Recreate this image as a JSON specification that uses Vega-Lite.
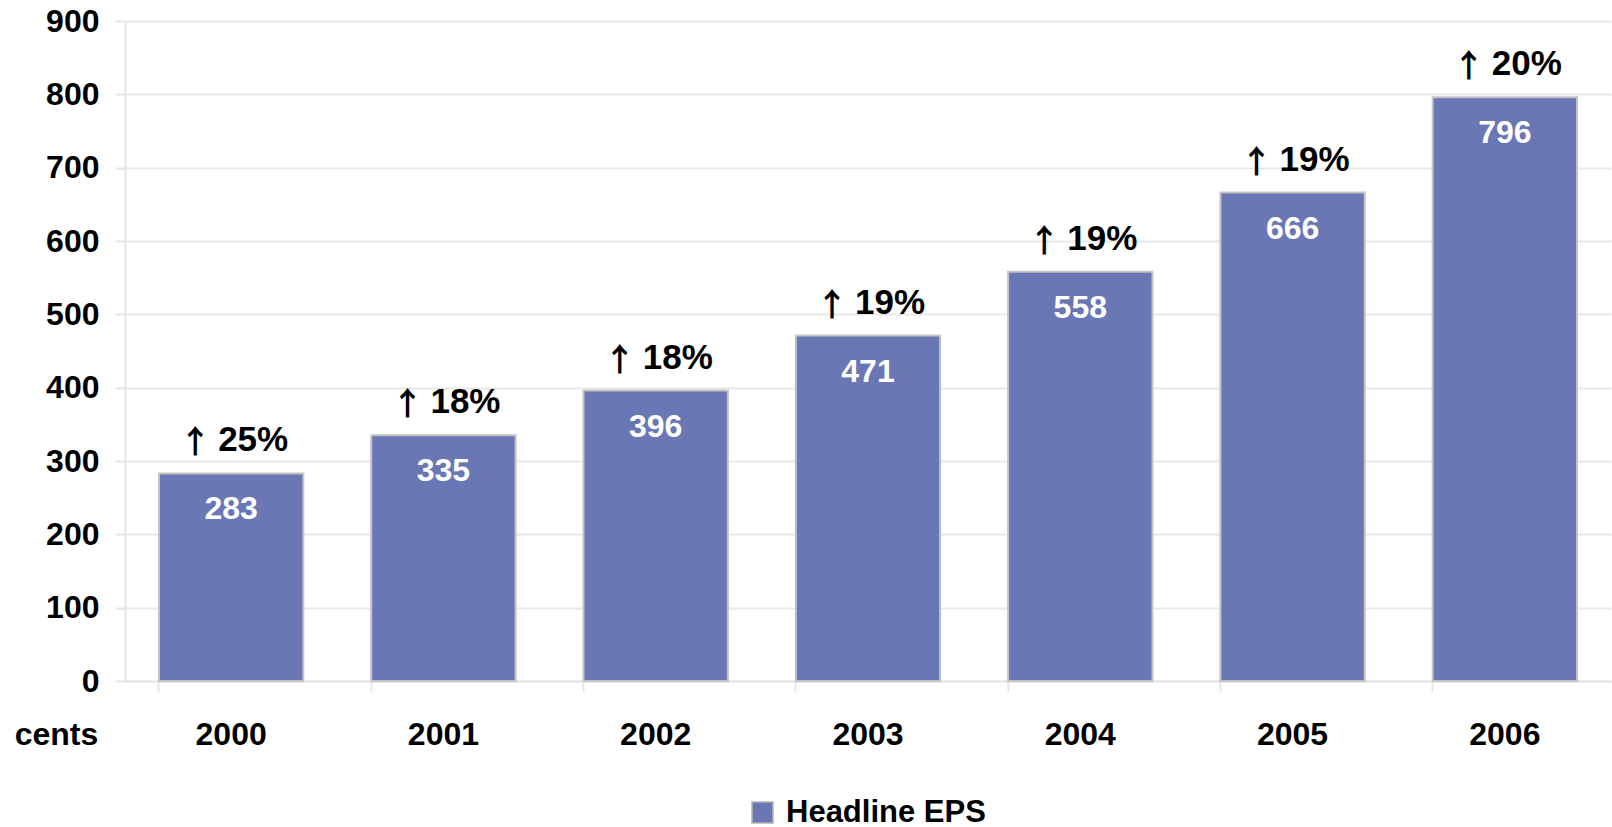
{
  "$schema": "https://vega.github.io/schema/vega-lite/v6.json",
  "width": 1486,
  "height": 660,
  "autosize": {"type": "none"},
  "padding": {"left": 125, "top": 21, "right": 1, "bottom": 146},
  "background": "white",
  "config": {
    "view": {"stroke": null},
    "font": "Liberation Sans",
    "axis": {
      "labelFont": "Liberation Sans",
      "labelFontWeight": "bold",
      "labelColor": "#000000",
      "titleFont": "Liberation Sans",
      "titleFontWeight": "bold",
      "titleColor": "#000000",
      "domainColor": "#e6e6e6",
      "domainWidth": 2,
      "tickColor": "#e6e6e6",
      "tickWidth": 2,
      "tickSize": 10,
      "gridColor": "#e8e8e8",
      "gridWidth": 2
    }
  },
  "data": {
    "values": [
      {"year": "2000", "eps": 283, "arrow": "↑", "growth": "25%", "series": "Headline EPS"},
      {"year": "2001", "eps": 335, "arrow": "↑", "growth": "18%", "series": "Headline EPS"},
      {"year": "2002", "eps": 396, "arrow": "↑", "growth": "18%", "series": "Headline EPS"},
      {"year": "2003", "eps": 471, "arrow": "↑", "growth": "19%", "series": "Headline EPS"},
      {"year": "2004", "eps": 558, "arrow": "↑", "growth": "19%", "series": "Headline EPS"},
      {"year": "2005", "eps": 666, "arrow": "↑", "growth": "19%", "series": "Headline EPS"},
      {"year": "2006", "eps": 796, "arrow": "↑", "growth": "20%", "series": "Headline EPS"}
    ]
  },
  "encoding": {
    "x": {
      "field": "year",
      "type": "nominal",
      "sort": null,
      "scale": {"paddingInner": 0.32, "paddingOuter": 0.16},
      "axis": {
        "title": "cents",
        "titleFontSize": 32,
        "titleAngle": 0,
        "titleAlign": "center",
        "titleBaseline": "alphabetic",
        "titleX": -69,
        "titleY": 63,
        "labelAngle": 0,
        "labelFontSize": 32,
        "labelBaseline": "alphabetic",
        "labelPadding": 53,
        "bandPosition": 0,
        "grid": false
      }
    },
    "y": {
      "field": "eps",
      "type": "quantitative",
      "scale": {"domain": [0, 900], "nice": false},
      "axis": {
        "title": null,
        "values": [0, 100, 200, 300, 400, 500, 600, 700, 800, 900],
        "labelFontSize": 32,
        "labelPadding": 16,
        "grid": true
      }
    }
  },
  "layer": [
    {
      "mark": {"type": "bar", "stroke": "#c4c4c4", "strokeWidth": 2},
      "encoding": {
        "color": {
          "field": "series",
          "type": "nominal",
          "scale": {"range": ["#6977b5"]},
          "legend": {
            "title": null,
            "orient": "none",
            "legendX": 622,
            "legendY": 776,
            "direction": "horizontal",
            "symbolType": "square",
            "symbolSize": 441,
            "symbolStrokeColor": "#b4b4b4",
            "symbolStrokeWidth": 1.5,
            "labelFont": "Liberation Sans",
            "labelFontSize": 31,
            "labelFontWeight": "bold",
            "labelColor": "#000000",
            "labelOffset": 8,
            "labelLimit": 400
          }
        }
      }
    },
    {
      "mark": {"type": "text", "color": "#ffffff", "fontSize": 32, "fontWeight": "bold", "baseline": "alphabetic", "dy": 46, "font": "Liberation Sans"},
      "encoding": {"text": {"field": "eps", "type": "quantitative"}}
    },
    {
      "mark": {"type": "text", "color": "#000000", "fontSize": 32, "fontWeight": "bold", "baseline": "alphabetic", "align": "right", "dy": -20, "dx": -20, "font": "Noto Sans CJK JP"},
      "encoding": {"text": {"field": "arrow", "type": "nominal"}}
    },
    {
      "mark": {"type": "text", "color": "#000000", "fontSize": 35, "fontWeight": "bold", "baseline": "alphabetic", "align": "left", "dy": -22, "dx": -13, "font": "Liberation Sans"},
      "encoding": {"text": {"field": "growth", "type": "nominal"}}
    }
  ]
}
